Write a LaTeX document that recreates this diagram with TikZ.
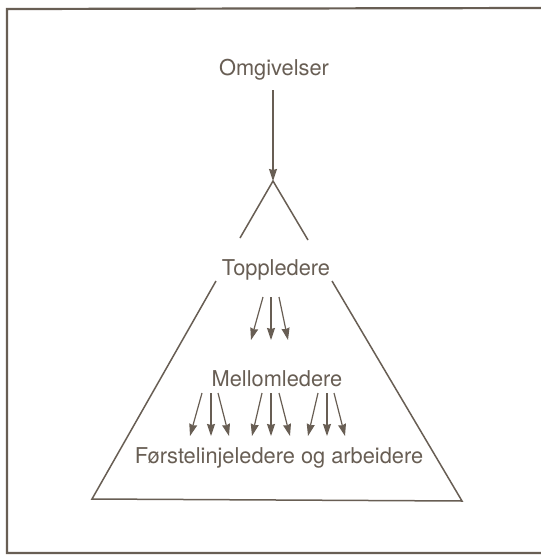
\documentclass[tikz,border=0pt]{standalone}
\usepackage{fontspec}
\setmainfont{TeX Gyre Heros}
\usetikzlibrary{arrows.meta}
\definecolor{ink}{RGB}{104,94,84}
\begin{document}
\begin{tikzpicture}[x=1pt,y=-1pt,
  lbl/.style={text=ink,font=\fontsize{21.8}{25}\selectfont,inner sep=0pt},
  ln/.style={draw=ink,line width=1.5pt},
  arr/.style={draw=ink,line width=1.2pt,-{Stealth[length=12pt,width=8pt,inset=1pt]}}]
\useasboundingbox (0,0) rectangle (541,555);
\fill[white] (0,0) rectangle (541,555);
% frame
\draw[draw=ink,line width=2.2pt] (541,8) -- (7,9) -- (7,553) -- (541,553);
% labels
\node[lbl] (omg) at (274,70) {Omgivelser};
\node[lbl] (top) at (276,270) {Toppledere};
\node[lbl] (mel) at (277,379) {Mellomledere};
\node[lbl] (for) at (279,458) {Førstelinjeledere og arbeidere};
% apex
\coordinate (apex) at (273,181);
\coordinate (av1) at (240,238);
\coordinate (av2) at (308,240);
\draw[ln] (av1) -- (apex) -- (av2);
\coordinate (omgE) at (273,90);
\draw[arr] (omgE) -- (apex);
% triangle body
\coordinate (tl) at (216,281);
\coordinate (tr) at (332,281);
\coordinate (bl) at (92,499);
\coordinate (br) at (462,501);
\draw[ln] (tl) -- (bl) -- (br) -- (tr);
% top -> middle arrows
\foreach \sx/\ex [count=\i] in {263/251,271/271,279/288}
  {\coordinate (ta\i) at (\sx,297); \coordinate (tb\i) at (\ex,340); \draw[arr] (ta\i) -- (tb\i);}
% middle -> bottom arrows
\foreach \sx/\ex [count=\i] in {202/190,211/211,218/229,262/252,271/271,279/290,318/308,327/327,334/345}
  {\coordinate (ma\i) at (\sx,393); \coordinate (mb\i) at (\ex,436); \draw[arr] (ma\i) -- (mb\i);}
\end{tikzpicture}
\end{document}
